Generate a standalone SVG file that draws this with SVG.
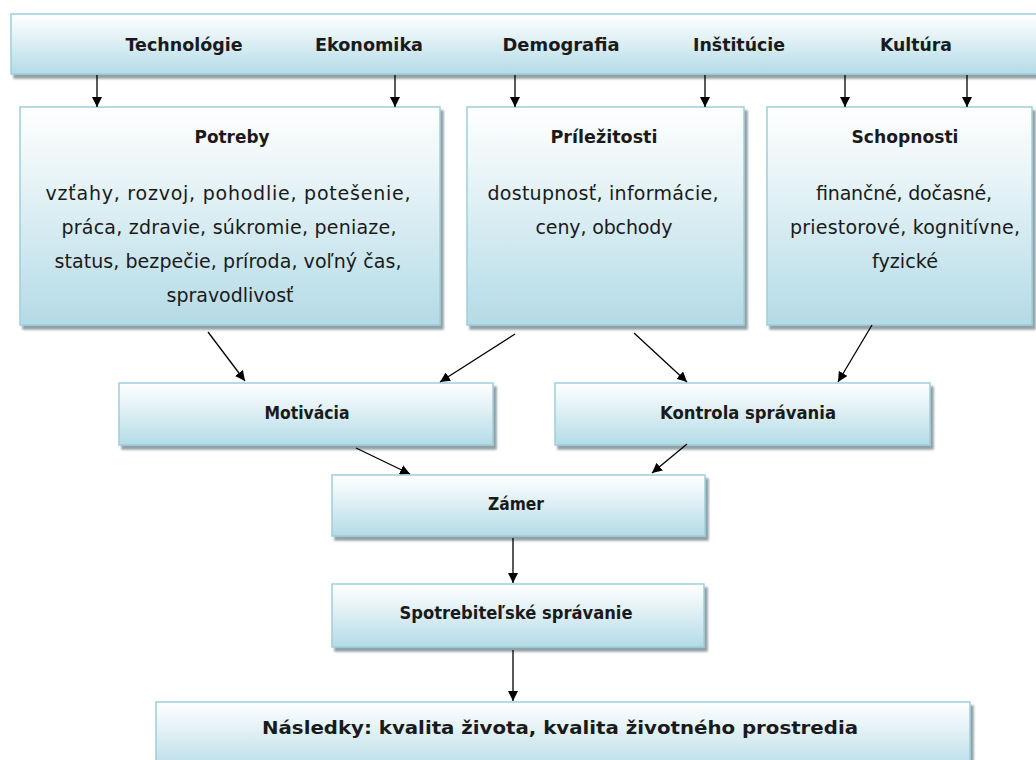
<svg xmlns="http://www.w3.org/2000/svg" width="1036" height="760" viewBox="0 0 1036 760">
<defs>
<linearGradient id="g" x1="0" y1="0" x2="0" y2="1">
<stop offset="0" stop-color="#ffffff"/>
<stop offset="0.35" stop-color="#e6f3f7"/>
<stop offset="1" stop-color="#b4dbe6"/>
</linearGradient>
<filter id="sh" x="-5%" y="-5%" width="110%" height="120%">
<feGaussianBlur in="SourceAlpha" stdDeviation="1"/>
<feOffset dx="3" dy="4" result="o"/>
<feFlood flood-color="#6f7f86" flood-opacity="0.75"/>
<feComposite in2="o" operator="in"/>
<feMerge><feMergeNode/><feMergeNode in="SourceGraphic"/></feMerge>
</filter>
<marker id="ah" viewBox="0 0 10 10" refX="10" refY="5" markerWidth="10" markerHeight="10" markerUnits="userSpaceOnUse" orient="auto">
<path d="M0,0 L10,5 L0,10 z" fill="#000"/>
</marker>
</defs>
<style>
.box{fill:url(#g);stroke:#9ccfdd;stroke-width:1.5;filter:url(#sh)}
text{font-family:"DejaVu Sans",Verdana,sans-serif;fill:#1a1a1a;text-anchor:middle}
.t{font-size:17px;font-weight:bold}
.n{font-size:18px;font-weight:bold}
.b{font-size:19px}
.c{stroke:#000;stroke-width:1.3;fill:none;marker-end:url(#ah)}
</style>
<rect width="1036" height="760" fill="#fff"/>
<g id="top">
<rect class="box" x="11" y="14" width="1030" height="60"/>
<text class="t" x="184" y="51" textLength="117" lengthAdjust="spacingAndGlyphs">Technológie</text>
<text class="t" x="369" y="51" textLength="108" lengthAdjust="spacingAndGlyphs">Ekonomika</text>
<text class="t" x="561" y="51" textLength="117" lengthAdjust="spacingAndGlyphs">Demografia</text>
<text class="t" x="739" y="51" textLength="92" lengthAdjust="spacingAndGlyphs">Inštitúcie</text>
<text class="t" x="916" y="51" textLength="72" lengthAdjust="spacingAndGlyphs">Kultúra</text>
</g>
<g id="potreby">
<rect class="box" x="20" y="107" width="420" height="218"/>
<text class="t" x="232" y="143" textLength="75" lengthAdjust="spacingAndGlyphs">Potreby</text>
<text class="b" x="228" y="200" textLength="365" lengthAdjust="spacing">vzťahy, rozvoj, pohodlie, potešenie,</text>
<text class="b" x="229" y="234" textLength="335" lengthAdjust="spacing">práca, zdravie, súkromie, peniaze,</text>
<text class="b" x="228" y="268" textLength="347" lengthAdjust="spacing">status, bezpečie, príroda, voľný čas,</text>
<text class="b" x="230" y="302" textLength="127" lengthAdjust="spacing">spravodlivosť</text>
</g>
<g id="prilezitosti">
<rect class="box" x="467" y="107" width="277" height="218"/>
<text class="t" x="604" y="143" textLength="107" lengthAdjust="spacingAndGlyphs">Príležitosti</text>
<text class="b" x="603" y="200" textLength="231" lengthAdjust="spacing">dostupnosť, informácie,</text>
<text class="b" x="604" y="234" textLength="137" lengthAdjust="spacing">ceny, obchody</text>
</g>
<g id="schopnosti">
<rect class="box" x="767" y="107" width="265" height="218"/>
<text class="t" x="905" y="143" textLength="107" lengthAdjust="spacingAndGlyphs">Schopnosti</text>
<text class="b" x="904" y="200" textLength="176" lengthAdjust="spacing">finančné, dočasné,</text>
<text class="b" x="905" y="234" textLength="230" lengthAdjust="spacing">priestorové, kognitívne,</text>
<text class="b" x="905" y="268" textLength="66" lengthAdjust="spacingAndGlyphs">fyzické</text>
</g>
<g id="motivacia">
<rect class="box" x="119" y="383" width="374" height="62"/>
<text class="t" x="307" y="419" textLength="85" lengthAdjust="spacingAndGlyphs">Motivácia</text>
</g>
<g id="kontrola">
<rect class="box" x="555" y="383" width="375" height="62"/>
<text class="t" x="748" y="419" textLength="176" lengthAdjust="spacingAndGlyphs">Kontrola správania</text>
</g>
<g id="zamer">
<rect class="box" x="332" y="475" width="373" height="61"/>
<text class="t" x="516" y="510" textLength="56" lengthAdjust="spacingAndGlyphs">Zámer</text>
</g>
<g id="spravanie">
<rect class="box" x="332" y="584" width="372" height="63"/>
<text class="t" x="516" y="619" textLength="233" lengthAdjust="spacingAndGlyphs">Spotrebiteľské správanie</text>
</g>
<g id="nasledky">
<rect class="box" x="156" y="702" width="814" height="70"/>
<text class="n" x="560" y="734" textLength="596" lengthAdjust="spacingAndGlyphs">Následky: kvalita života, kvalita životného prostredia</text>
</g>
<g id="connectors">
<line class="c" x1="97" y1="75" x2="97" y2="107"/>
<line class="c" x1="395" y1="75" x2="395" y2="107"/>
<line class="c" x1="515" y1="75" x2="515" y2="107"/>
<line class="c" x1="705" y1="75" x2="705" y2="107"/>
<line class="c" x1="845" y1="75" x2="845" y2="107"/>
<line class="c" x1="967" y1="75" x2="967" y2="107"/>
<line class="c" x1="208" y1="332" x2="245" y2="381"/>
<line class="c" x1="515" y1="334" x2="440" y2="382"/>
<line class="c" x1="634" y1="333" x2="687" y2="382"/>
<line class="c" x1="872" y1="325" x2="838" y2="382"/>
<line class="c" x1="356" y1="448" x2="410" y2="474"/>
<line class="c" x1="687" y1="444" x2="652" y2="473"/>
<line class="c" x1="513" y1="538" x2="513" y2="583"/>
<line class="c" x1="513" y1="650" x2="513" y2="701"/>
</g>
</svg>
